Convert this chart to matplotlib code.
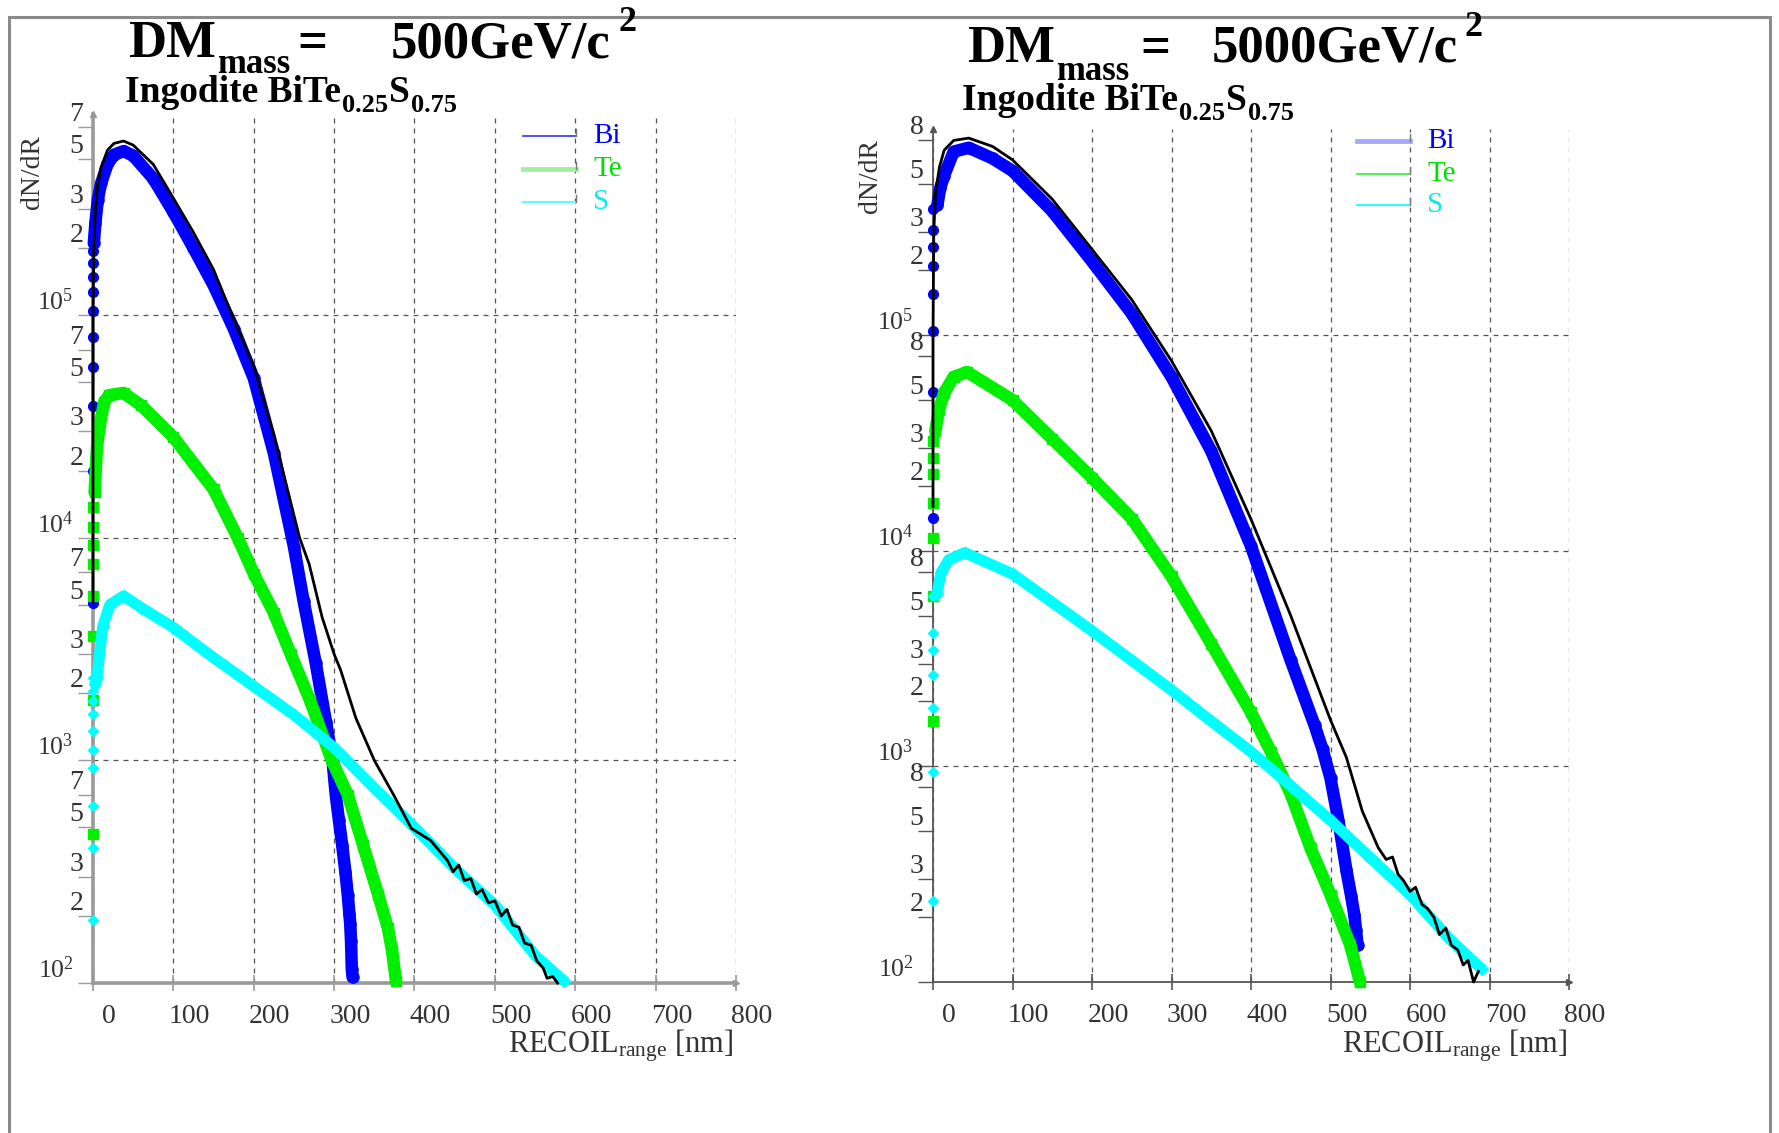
import matplotlib
matplotlib.use('Agg')
import matplotlib.pyplot as plt
from matplotlib.ticker import FixedLocator, FixedFormatter
from matplotlib import transforms
from matplotlib.lines import Line2D
from matplotlib.patches import Rectangle

plt.rcParams['font.family'] = ['Liberation Serif', 'DejaVu Serif']
plt.rcParams['mathtext.fontset'] = 'custom'
plt.rcParams['mathtext.rm'] = 'Liberation Serif'
plt.rcParams['mathtext.it'] = 'Liberation Serif:italic'
plt.rcParams['mathtext.bf'] = 'Liberation Serif:bold'

# ---------------- data: DM mass 500 GeV ----------------
bi500_edge = [5.1e3, 2.0e4, 3.9e4, 5.85e4, 8.0e4, 1.04e5, 1.27e5, 1.49e5, 1.71e5, 1.93e5]
bi500_x = [1, 3, 6, 10, 18, 26, 38, 50, 75, 100, 125, 150, 175, 200, 225, 250, 262, 277, 290, 298,
           302, 306, 310, 314, 317, 319, 320, 321, 322, 323]
bi500_y = [2.1e5, 2.6e5, 3.3e5, 3.9e5, 4.75e5, 5.25e5, 5.45e5, 5.2e5, 4.1e5, 2.9e5,
           2.0e5, 1.36e5, 8.7e4, 5.2e4, 2.4e4, 9.1e3, 5.2e3, 2.75e3, 1.48e3, 1.0e3,
           700, 537, 417, 316, 248, 204, 185, 155, 116, 106]

te500_edge = [468, 1860, 3630, 5500, 7600, 9300, 1.12e4, 1.38e4]
te500_x = [2, 5, 9, 14, 20, 38, 60, 100, 150, 180, 200, 225, 246, 270, 297, 317, 336, 355, 367, 372, 377]
te500_y = [1.6e4, 2.57e4, 3.3e4, 4.07e4, 4.37e4, 4.47e4, 3.93e4, 2.83e4, 1.65e4, 1.0e4,
           6.9e3, 4.6e3, 3.0e3, 1.86e3, 1.0e3, 700, 417, 248, 176, 140, 102]

s500_edge = [191, 403, 621, 925, 1117, 1352, 1607, 1845, 2047, 2350]
s500_x = [3, 5, 12, 21, 38, 60, 100, 150, 200, 250, 300, 350, 400, 450, 500, 550, 586]
s500_y = [2.2e3, 2.35e3, 3.98e3, 5.0e3, 5.48e3, 4.85e3, 3.95e3, 2.89e3, 2.15e3, 1.6e3,
          1.14e3, 750, 500, 327, 224, 133, 102]

tot500_x = [0, 0, 0, 1, 3, 6, 10, 18, 26, 38, 50, 75, 100, 125, 150, 173, 200, 225,
            257, 269, 285, 300, 308, 327, 350, 374, 396, 420, 441, 448, 455, 462, 470, 477,
            484, 492, 500, 508, 515, 522, 530, 537, 545, 552, 560, 565, 572, 578]
tot500_y = [5.1e3, 3.0e4, 1.0e5, 2.0e5, 3.0e5, 3.9e5, 4.6e5, 5.5e5, 5.9e5, 6.05e5,
            5.8e5, 4.75e5, 3.35e5, 2.35e5, 1.6e5, 1.0e5, 5.9e4, 2.9e4,
            1.0e4, 7.6e3, 4.4e3, 3.0e3, 2.55e3, 1.55e3, 1.0e3, 700, 495, 437,
            355, 316, 339, 288, 295, 251, 263, 229, 234, 200,
            214, 182, 178, 151, 148, 126, 117, 105, 107, 100]

# ---------------- data: DM mass 5000 GeV ----------------
bi5k_edge = [1.42e4, 5.45e4, 1.04e5, 1.55e5, 2.09e5, 2.57e5, 3.09e5, 3.83e5]
bi5k_x = [5.5, 9, 14, 26, 45, 75, 100, 150, 200, 250, 300, 350, 400, 450, 480, 490, 500,
          510, 520, 526, 530, 532, 534]
bi5k_y = [4.0e5, 4.8e5, 5.5e5, 7.1e5, 7.4e5, 6.6e5, 5.78e5, 3.76e5, 2.2e5, 1.26e5,
          6.4e4, 2.9e4, 1.05e4, 3.1e3, 1.55e3, 1.2e3, 880, 560, 330, 250, 205, 175, 148]

te5k_edge = [1.62e3, 6.2e3, 1.15e4, 1.66e4, 2.26e4, 2.7e4, 3.24e4]
te5k_x = [3, 7.5, 14, 26, 43, 100, 150, 200, 250, 300, 350, 400, 425, 450,
          475, 500, 525, 537]
te5k_y = [3.6e4, 4.5e4, 5.4e4, 6.4e4, 6.75e4, 5.0e4, 3.3e4, 2.18e4, 1.41e4,
          7.6e3, 3.7e3, 1.78e3, 1.17e3, 745, 417, 254, 148, 100]

s5k_edge = [237, 942, 1.86e3, 2.66e3, 3.48e3, 4.17e3, 6.17e3]
s5k_x = [5, 10, 20, 40, 100, 150, 200, 250, 300, 350, 400, 450, 500, 550, 600, 650, 690]
s5k_y = [6.3e3, 7.9e3, 9.1e3, 9.8e3, 7.8e3, 5.76e3, 4.25e3, 3.1e3, 2.26e3, 1.62e3,
         1.17e3, 813, 562, 377, 254, 158, 115]

tot5k_x = [0, 0, 1, 3, 8, 14, 26, 45, 75, 100, 150, 200, 250, 300, 350, 400, 421, 450,
           500, 520, 540, 560, 570, 578, 585, 592, 600, 607, 615, 622, 630, 637, 645,
           652, 660, 667, 673, 680, 686]
tot5k_y = [1.6e4, 1.0e5, 3.0e5, 4.5e5, 6.0e5, 7.2e5, 8.0e5, 8.2e5, 7.5e5, 6.5e5,
           4.27e5, 2.5e5, 1.46e5, 7.6e4, 3.6e4, 1.4e4, 9.1e3, 5.0e3,
           1.64e3, 1.1e3, 620, 420, 370, 380, 316, 295, 263, 275, 229, 219,
           200, 166, 178, 148, 141, 120, 126, 100, 112]

x_ticks = [0, 100, 200, 300, 400, 500, 600, 700, 800]
x_tick_labels = ['0', '100', '200', '300', '400', '500', '600', '700', '800']
y_major = [1e2, 1e3, 1e4, 1e5]
y_major_labels = [r'$10^{2}$', r'$10^{3}$', r'$10^{4}$', r'$10^{5}$']
minor_500 = [2, 3, 5, 7]
minor_5k = [2, 3, 5, 8]
legend_names = ['Bi', 'Te', 'S']

C_BI = '#0000ff'
C_TE = '#00f000'
C_S = '#00ffff'

W, H = 1779, 1133
fig = plt.figure(figsize=(W / 100, H / 100), dpi=100)


def fx(x):
    return x / W


def fy(y):
    return 1 - y / H


def panel(rect, ymax, minors, axcol, axlw, data):
    ax = fig.add_axes(rect)
    ax.set_xlim(0, 800)
    ax.set_yscale('log')
    ax.set_ylim(100, ymax)
    for s in ['top', 'right']:
        ax.spines[s].set_visible(False)
    for s in ['left', 'bottom']:
        ax.spines[s].set_color(axcol)
        ax.spines[s].set_linewidth(axlw)
    ax.xaxis.set_major_locator(FixedLocator(x_ticks))
    ax.xaxis.set_major_formatter(FixedFormatter(x_tick_labels))
    ax.yaxis.set_major_locator(FixedLocator(y_major))
    ax.yaxis.set_major_formatter(FixedFormatter(y_major_labels))
    mloc, mlab = [], []
    for dec in [1e2, 1e3, 1e4, 1e5]:
        for m in minors:
            if m * dec <= ymax:
                mloc.append(m * dec)
                mlab.append(str(m))
    ax.yaxis.set_minor_locator(FixedLocator(mloc))
    ax.yaxis.set_minor_formatter(FixedFormatter(mlab))
    ax.xaxis.set_minor_locator(FixedLocator([]))
    ax.tick_params(axis='x', which='major', direction='inout', length=12, width=1.2,
                   color=axcol, labelsize=20, labelcolor='#333333', pad=9)
    ax.tick_params(axis='y', which='minor', direction='out', length=11, width=1.0,
                   color=axcol, labelsize=20, labelcolor='#333333', pad=-4)
    ax.tick_params(axis='y', which='major', direction='out', length=11, width=1.0,
                   color=axcol, labelsize=18.5, labelcolor='#333333', pad=3)
    off = transforms.ScaledTranslation(0.16, 0, fig.dpi_scale_trans)
    for lab in ax.get_xticklabels():
        lab.set_transform(lab.get_transform() + off)
    for lab in ax.get_yticklabels(which='both'):
        lab.set_verticalalignment('bottom')
    ax.grid(True, which='major', linestyle=(0, (4, 4)), color='#555555', linewidth=0.9)

    (bi_e, bi_x, bi_y, te_e, te_x, te_y, s_e, s_x, s_y, t_x, t_y) = data
    ax.plot(bi_x, bi_y, color=C_BI, lw=9, marker='o', ms=8, clip_on=False, zorder=3,
            solid_capstyle='round', solid_joinstyle='round')
    ax.plot([0] * len(bi_e), bi_e, ls='none', color=C_BI, marker='o', ms=7, clip_on=False, zorder=3)
    ax.plot(te_x, te_y, color=C_TE, lw=9, marker='s', ms=7, clip_on=False, zorder=4,
            solid_capstyle='round', solid_joinstyle='round')
    ax.plot([0] * len(te_e), te_e, ls='none', color=C_TE, marker='s', ms=6.5, clip_on=False, zorder=4)
    ax.plot(s_x, s_y, color=C_S, lw=8, marker='D', ms=6, clip_on=False, zorder=5,
            solid_capstyle='round', solid_joinstyle='round')
    ax.plot([0] * len(s_e), s_e, ls='none', color=C_S, marker='D', ms=5.5, clip_on=False, zorder=5)
    ax.plot(t_x, t_y, color='black', lw=2.0, clip_on=False, zorder=6)
    # axis arrows
    ax.plot([0], [1], marker='^', ms=5, color=axcol, transform=ax.transAxes, clip_on=False)
    ax.plot([1], [0], marker='>', ms=5, color=axcol, transform=ax.transAxes, clip_on=False)
    return ax


axL = panel([fx(93), fy(983), 643 / W, 869 / H], 8e5, minor_500, '#9a9a9a', 2.6,
            (bi500_edge, bi500_x, bi500_y, te500_edge, te500_x, te500_y,
             s500_edge, s500_x, s500_y, tot500_x, tot500_y))
axR = panel([fx(933), fy(982), 636 / W, 852.6 / H], 9e5, minor_5k, '#555555', 1.3,
            (bi5k_edge, bi5k_x, bi5k_y, te5k_edge, te5k_x, te5k_y,
             s5k_edge, s5k_x, s5k_y, tot5k_x, tot5k_y))


def T(x, y, s, size, bold=True, **kw):
    return fig.text(fx(x), fy(y), s, fontsize=size, fontweight='bold' if bold else 'normal',
                    ha=kw.pop('ha', 'left'), va=kw.pop('va', 'baseline'), **kw)


renderer = fig.canvas.get_renderer()


def chain(x, y, parts):
    # parts: (text, size, baseline shift in px); each starts where the previous ends
    for s, size, dy in parts:
        t = T(x, y + dy, s, size)
        bb = t.get_window_extent(renderer)
        x = bb.x1 + 1


# titles
chain(128, 57, [('DM', 38, 0), ('mass', 25, 16)])
T(297, 57, '=', 38)
T(391, 57, '500GeV/c', 38)
T(618, 31, '2', 26)

chain(967, 62, [('DM', 38, 0), ('mass', 25, 18)])
T(1140, 62, '=', 38)
T(1212, 62, '5000GeV/c', 38)
T(1464, 36, '2', 26)

# subtitles
chain(125, 102, [('Ingodite BiTe', 27, 0), ('0.25', 19, 10), ('S', 27, 0), ('0.75', 19, 10)])
chain(962, 110, [('Ingodite BiTe', 27, 0), ('0.25', 19, 10), ('S', 27, 0), ('0.75', 19, 10)])

# axis titles
T(32, 172, 'dN/dR', 20, bold=False, rotation=90, ha='center', va='center', color='#333333')
T(871, 176, 'dN/dR', 20, bold=False, rotation=90, ha='center', va='center', color='#333333')
T(733, 1046, r'RECOIL$_{\rm range}$ [nm]', 22, bold=False, ha='right', va='center', color='#333333')
T(1567, 1046, r'RECOIL$_{\rm range}$ [nm]', 22, bold=False, ha='right', va='center', color='#333333')


# legends
def legend(x0, x1, xt, ys, lcols, lws):
    tcols = [C_BI, '#00dd00', '#00eeee']
    for name, y, lc, lw, tc in zip(legend_names, ys, lcols, lws, tcols):
        fig.add_artist(Line2D([fx(x0), fx(x1)], [fy(y), fy(y)], color=lc, lw=lw))
        fig.add_artist(Line2D([fx(x1), fx(x1)], [fy(y), fy(y - 7)], color='#777777', lw=1))
        fig.text(fx(xt), fy(y), name, fontsize=21, color=tc, ha='left', va='center')


legend(523, 576, 593, [136, 169, 202], ['#3030ff', '#a0f0a0', '#60ffff'], [1.2, 3.5, 1.5])
legend(1357, 1410, 1427, [141, 174, 205], ['#a8a8ff', '#30f030', '#30ffff'], [3.5, 1.2, 1.5])

# outer frame
fig.add_artist(Rectangle((fx(9), -0.05), fx(1770) - fx(9), fy(17) + 0.05,
                         transform=fig.transFigure, fill=False, edgecolor='#8a8a8a', lw=2.2))

fig.savefig('out.png', dpi=100)
